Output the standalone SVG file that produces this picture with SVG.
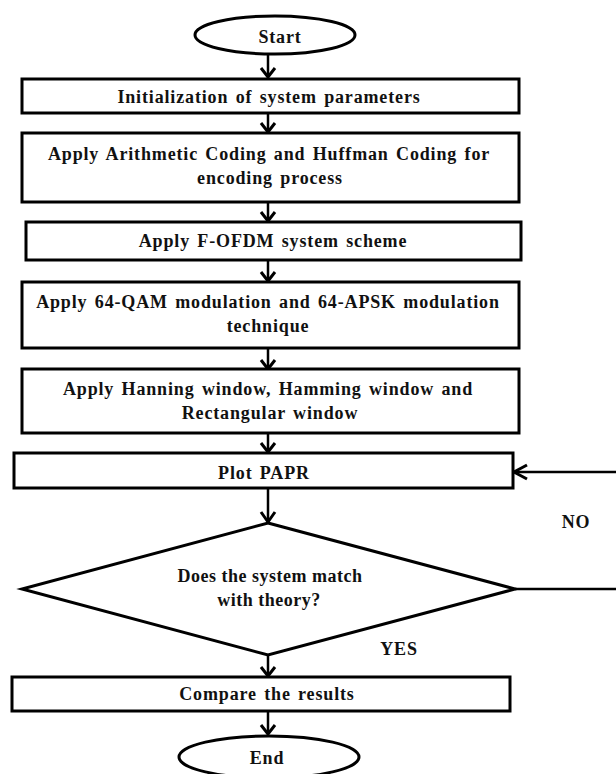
<svg xmlns="http://www.w3.org/2000/svg" width="616" height="774" viewBox="0 0 616 774">
<style>
.n{fill:#fff;stroke:#000;stroke-width:3}
.t{font-family:"Liberation Serif","Times New Roman",serif;font-weight:bold;font-size:18px;letter-spacing:0.85px;word-spacing:2px;fill:#111;text-anchor:middle}
.d{letter-spacing:0.5px;word-spacing:0}
.c{fill:none;stroke:#000;stroke-width:2.5}
.h{fill:none;stroke:#000;stroke-width:3;stroke-linejoin:miter}
</style>
<rect width="616" height="774" fill="#fff"/>
<g id="connectors">
<line class="c" x1="268" y1="55" x2="268" y2="77"/>
<polyline class="h" points="261,68 268,77 275,68"/>
<line class="c" x1="268" y1="113" x2="268" y2="132"/>
<polyline class="h" points="261,123 268,132 275,123"/>
<line class="c" x1="268" y1="202" x2="268" y2="221"/>
<polyline class="h" points="261,212 268,221 275,212"/>
<line class="c" x1="268" y1="260" x2="268" y2="281"/>
<polyline class="h" points="261,272 268,281 275,272"/>
<line class="c" x1="268" y1="348" x2="268" y2="369"/>
<polyline class="h" points="261,360 268,369 275,360"/>
<line class="c" x1="268" y1="433" x2="268" y2="452"/>
<polyline class="h" points="261,443 268,452 275,443"/>
<line class="c" x1="268" y1="488" x2="268" y2="522"/>
<polyline class="h" points="261,512 268,522 275,512"/>
<line class="c" x1="268" y1="655" x2="268" y2="676"/>
<polyline class="h" points="261,667 268,676 275,667"/>
<line class="c" x1="268" y1="711" x2="268" y2="734"/>
<polyline class="h" points="261,725 268,734 275,725"/>
<line class="c" x1="515" y1="589" x2="616" y2="589"/>
<line class="c" x1="513" y1="472" x2="616" y2="472"/>
<polyline class="h" points="527,465 514,472 527,479"/>
<text class="t" x="576" y="528">NO</text>
<text class="t" x="399" y="655">YES</text>
</g>
<g id="start">
<ellipse class="n" cx="275" cy="35" rx="80" ry="19"/>
<text class="t" x="280" y="43">Start</text>
</g>
<g id="init">
<rect class="n" x="22" y="79" width="497" height="34"/>
<text class="t" x="269" y="103">Initialization of system parameters</text>
</g>
<g id="encode">
<rect class="n" x="22" y="133" width="497" height="69"/>
<text class="t" x="269" y="160">Apply Arithmetic Coding and Huffman Coding for</text>
<text class="t" x="270" y="184">encoding process</text>
</g>
<g id="fofdm">
<rect class="n" x="26" y="222" width="495" height="38"/>
<text class="t" x="273" y="247">Apply F-OFDM system scheme</text>
</g>
<g id="modulation">
<rect class="n" x="22" y="282" width="497" height="66"/>
<text class="t" x="268" y="308">Apply 64-QAM modulation and 64-APSK modulation</text>
<text class="t" x="268" y="332">technique</text>
</g>
<g id="window">
<rect class="n" x="22" y="369" width="497" height="64"/>
<text class="t" x="268" y="395">Apply Hanning window, Hamming window and</text>
<text class="t" x="270" y="419">Rectangular window</text>
</g>
<g id="papr">
<rect class="n" x="14" y="453" width="499" height="35"/>
<text class="t" x="264" y="479">Plot PAPR</text>
</g>
<g id="decision">
<polygon class="n" points="268,523 515,589 268,655 22,589"/>
<text class="t d" x="270" y="582">Does the system match</text>
<text class="t d" x="269" y="606">with theory?</text>
</g>
<g id="compare">
<rect class="n" x="12" y="677" width="498" height="34"/>
<text class="t" x="267" y="700">Compare the results</text>
</g>
<g id="end">
<ellipse class="n" cx="269" cy="757" rx="90" ry="21"/>
<text class="t" x="267" y="764">End</text>
</g>
</svg>
